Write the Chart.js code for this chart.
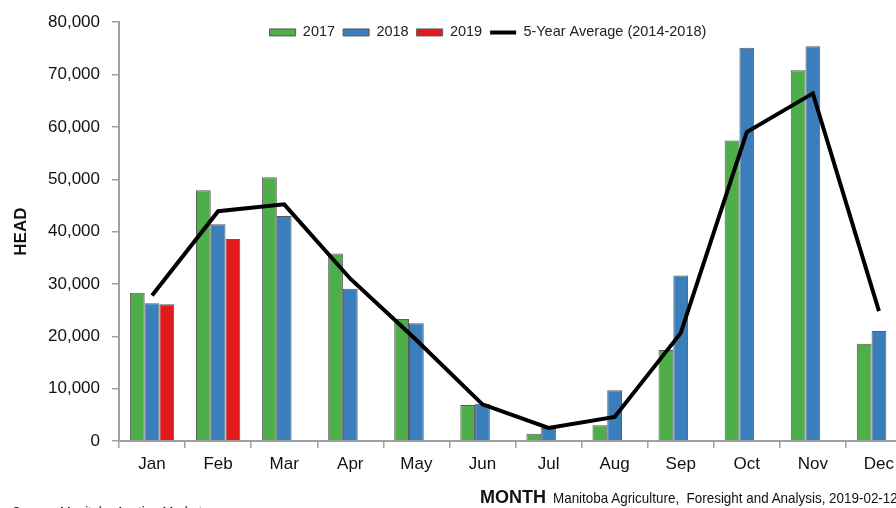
<!DOCTYPE html>
<html>
<head>
<meta charset="utf-8">
<script src="https://cdn.jsdelivr.net/npm/chart.js@4"></script>
<style>
  html, body { margin:0; padding:0; width:896px; height:508px; overflow:hidden; background:#fff; }
  #wrap { position:absolute; left:0; top:0; width:912px; height:508px; }
  .txt { position:absolute; white-space:nowrap; color:#111; transform-origin:left top; }
  #month { left:480px; top:487px; font:bold 18px "Liberation Sans", Arial, sans-serif; line-height:20px; }
  #credit { left:553px; top:489px; font:15px "Liberation Sans Narrow", "Liberation Sans", Arial, sans-serif; line-height:18px; transform:scaleX(0.895); }
  #source { left:12px; top:503px; font:15px "Liberation Sans Narrow", "Liberation Sans", Arial, sans-serif; line-height:18px; transform:scaleX(0.86); }
</style>
</head>
<body>
<div id="wrap"><canvas id="c" width="912" height="508"></canvas></div>
<div class="txt" id="month">MONTH</div>
<div class="txt" id="credit">Manitoba Agriculture, &nbsp;Foresight and Analysis, 2019-02-12</div>
<div class="txt" id="source">Source: Manitoba Auction Markets</div>
<script>
const months = ['Jan','Feb','Mar','Apr','May','Jun','Jul','Aug','Sep','Oct','Nov','Dec'];
const head2017 = [28300, 47900, 50400, 35800, 23300, 6900, 1400, 3000, 17400, 57400, 70800, 18600];
const head2018 = [26300, 41400, 43000, 29100, 22500, 7100, 2500, 9700, 31600, 75100, 75400, 21000];
const head2019 = [26100, 38600, null, null, null, null, null, null, null, null, null, null];
const avg5yr  = [27800, 43900, 45200, 31000, 19300, 7000, 2500, 4600, 20600, 59000, 66400, 24800];
const yTicks = [0, 10000, 20000, 30000, 40000, 50000, 60000, 70000, 80000];

const FONT = '"Liberation Sans", Arial, sans-serif';

// legend overlays the plot: give it zero layout height, then restore its box and nudge it
const legendOverlay = {
  id: 'legendOverlay',
  beforeLayout(chart) {
    const l = chart.legend;
    if (l && !l._patched) {
      const fit = l.fit;
      l.fit = function () { fit.call(this); this._realHeight = this.height; this.height = 0; };
      l._patched = true;
    }
  },
  afterLayout(chart) {
    const l = chart.legend;
    if (l) {
      const h = l._realHeight || 40;
      l.left += 32; l.right += 32;
      l.top -= 5;
      l.height = h; l.bottom = l.top + h;
    }
  }
};

new Chart(document.getElementById('c'), {
  type: 'bar',
  data: {
    labels: months,
    datasets: [
      { label: '2017', data: head2017, backgroundColor: '#4dae4a', borderColor: '#5a5a5a', borderWidth: 1, pointStyle: 'rect', order: 1 },
      { label: '2018', data: head2018, backgroundColor: '#3a7ebb', borderColor: '#5a5a5a', borderWidth: 1, pointStyle: 'rect', order: 1 },
      { label: '2019', data: head2019, backgroundColor: '#e31a1c', borderColor: '#5a5a5a', borderWidth: 1, pointStyle: 'rect', order: 1 },
      { type: 'line', label: '5-Year Average (2014-2018)', data: avg5yr, borderColor: '#000', backgroundColor: '#000',
        borderWidth: 4, pointRadius: 0, pointHoverRadius: 0, tension: 0, pointStyle: 'line', order: 0, borderJoinStyle: 'miter' }
    ]
  },
  options: {
    responsive: false,
    animation: false,
    devicePixelRatio: 1,
    layout: { padding: { top: 18, right: 0, bottom: 0, left: 0 } },
    datasets: { bar: { categoryPercentage: 0.67, barPercentage: 1.0 } },
    plugins: {
      tooltip: { enabled: false },
      legend: {
        position: 'top',
        align: 'center',
        labels: {
          usePointStyle: true,
          pointStyleWidth: 26,
          boxHeight: 7,
          padding: 8,
          color: '#222',
          font: { family: FONT, size: 14.5 },
          sort: (a, b) => a.datasetIndex - b.datasetIndex
        }
      }
    },
    scales: {
      x: {
        offset: true,
        grid: { display: true, drawOnChartArea: false, drawTicks: true, tickLength: 7, color: '#a0a0a0', lineWidth: 1.5, offset: true },
        border: { display: true, color: '#a0a0a0', width: 2 },
        ticks: { color: '#111', font: { family: FONT, size: 17 }, padding: 6 },
        afterFit(scale) { scale.height = 67; }
      },
      y: {
        min: 0, max: 80000,
        afterBuildTicks(scale) { scale.ticks = yTicks.map(v => ({ value: v })); },
        grid: { display: true, drawOnChartArea: false, drawTicks: true, tickLength: 7, color: '#a0a0a0', lineWidth: 1.5 },
        border: { display: true, color: '#a0a0a0', width: 2 },
        ticks: { color: '#111', font: { family: FONT, size: 17 }, padding: 12,
          callback: v => v.toLocaleString('en-US') },
        title: { display: true, text: 'HEAD', color: '#111', font: { family: FONT, size: 17, weight: 'bold' }, padding: { top: 11, bottom: 0 } },
        afterFit(scale) { scale.width = 119; }
      }
    }
  },
  plugins: [legendOverlay]
});
</script>
</body>
</html>
